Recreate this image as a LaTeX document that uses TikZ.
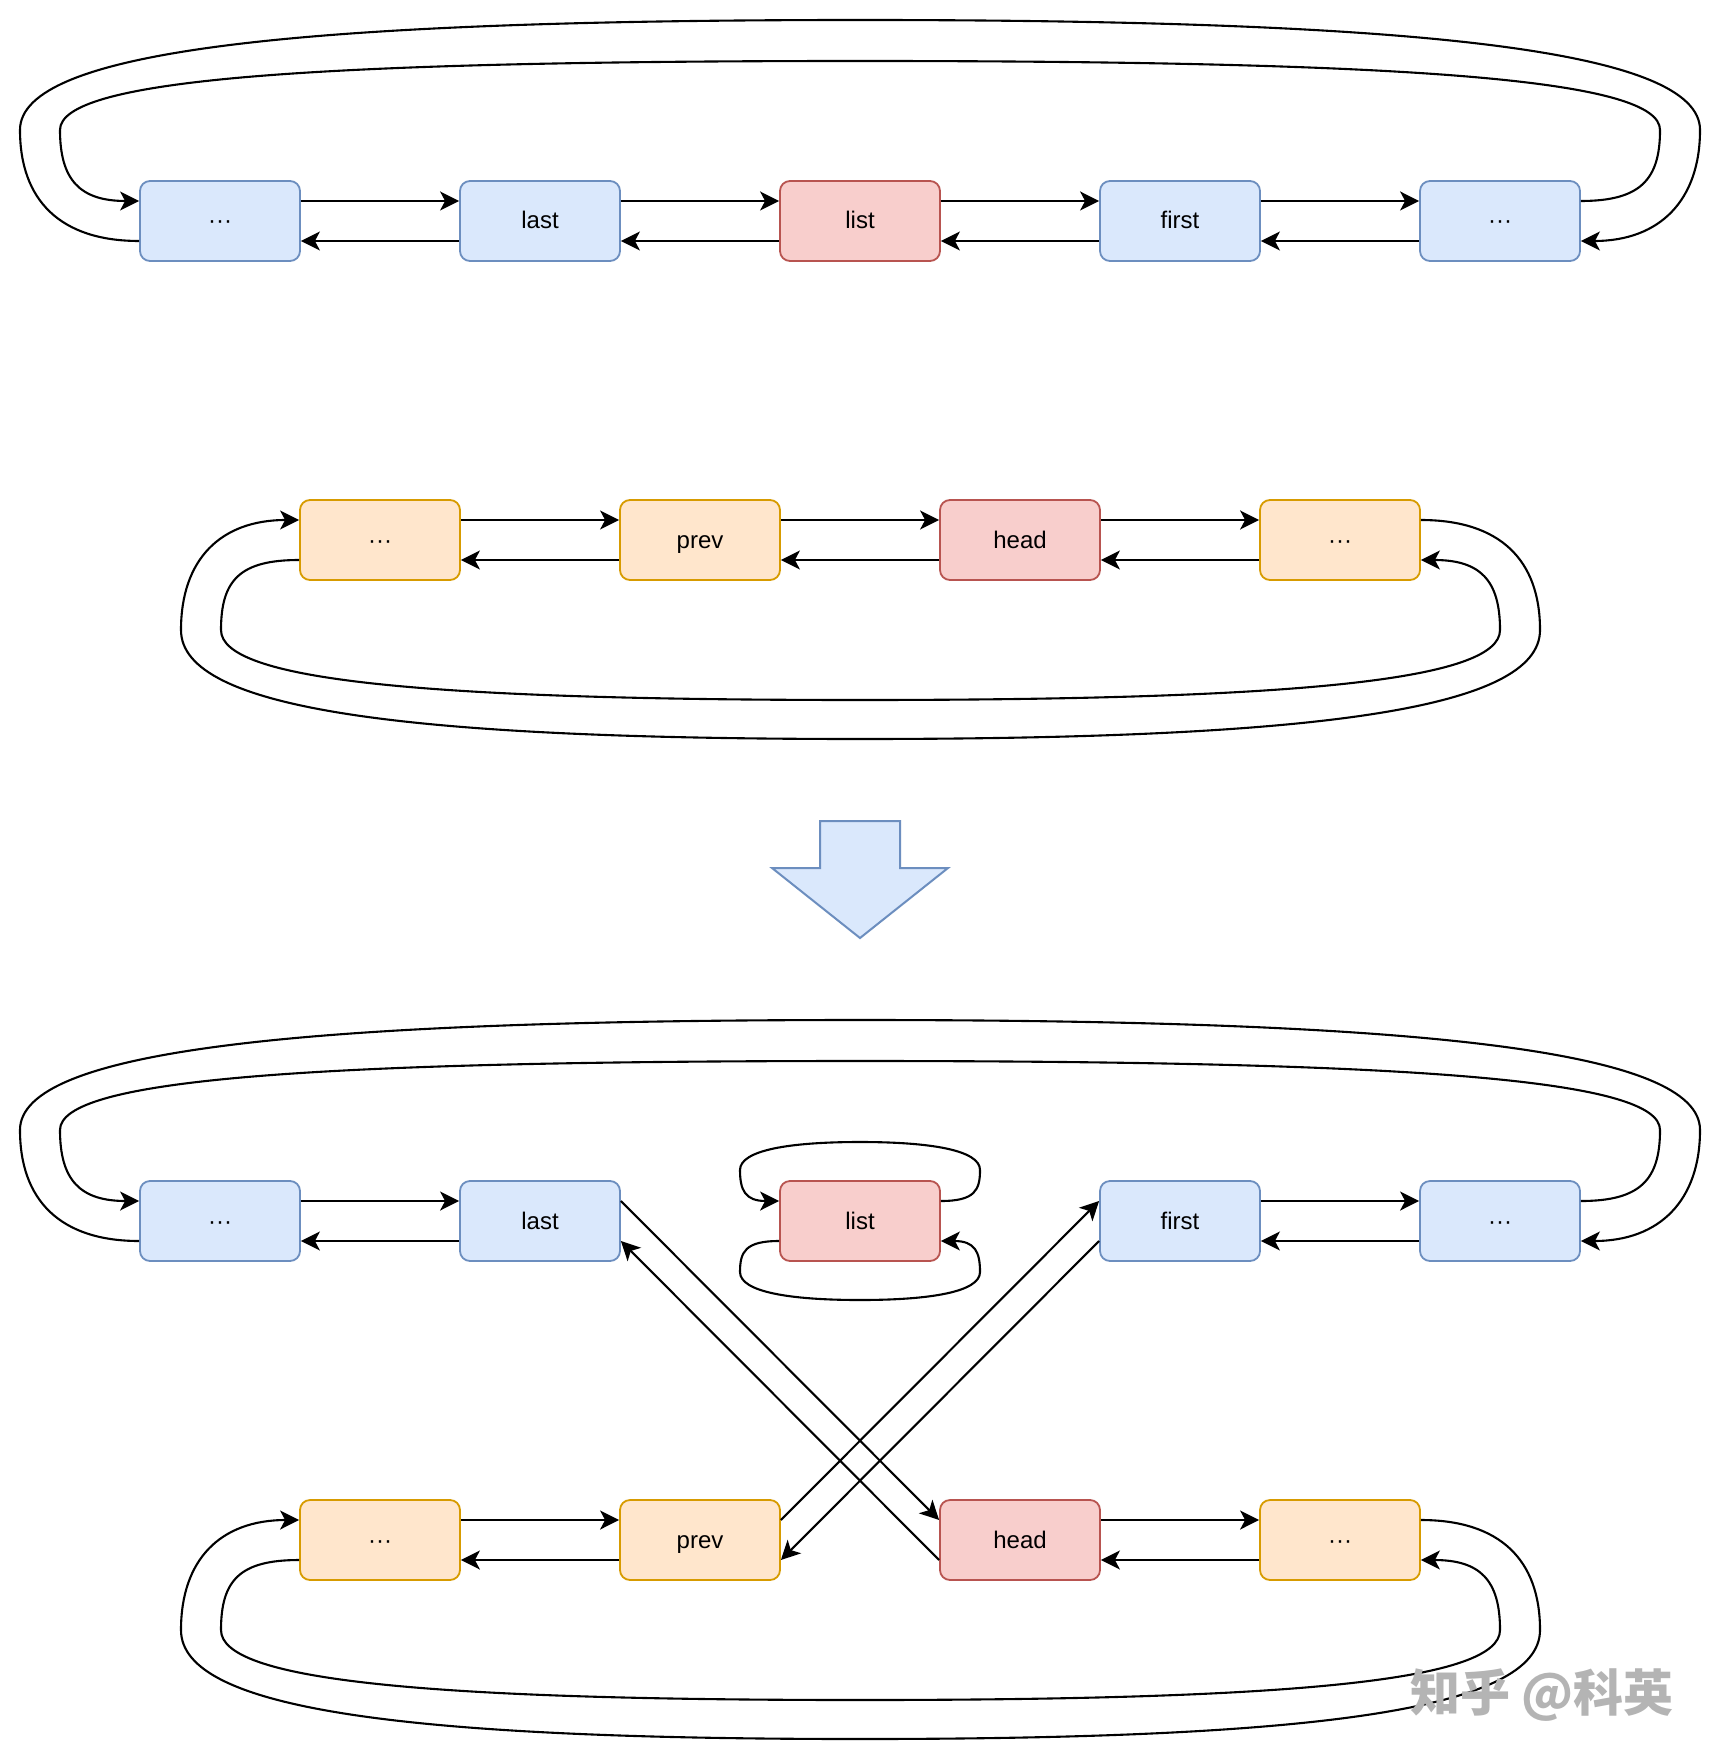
\documentclass[tikz,border=0pt]{standalone}
\usepackage{fontspec}
\setmainfont{Liberation Sans}
\newfontfamily\cjk{Noto Sans CJK SC}
\usetikzlibrary{arrows.meta}
\definecolor{bfill}{HTML}{DAE8FC}
\definecolor{bline}{HTML}{6C8EBF}
\definecolor{rfill}{HTML}{F8CECC}
\definecolor{rline}{HTML}{B85450}
\definecolor{ofill}{HTML}{FFE6CC}
\definecolor{oline}{HTML}{D79B00}
\definecolor{wmgray}{HTML}{B4B4B4}
\tikzset{
  box/.style={rounded corners=5pt, line width=0.9pt, minimum width=80pt, minimum height=40pt,
    inner sep=0pt, text height=9pt, text depth=1pt, font=\fontsize{12}{14}\selectfont},
  bluebox/.style={box, fill=bfill, draw=bline},
  redbox/.style={box, fill=rfill, draw=rline},
  orangebox/.style={box, fill=ofill, draw=oline},
  arr/.style={-{Stealth[length=9.5pt,width=9.5pt,inset=2.5pt]}, line width=1.05pt, black},
  bigarrow/.style={fill=bfill, draw=bline, line width=1pt, line join=miter}
}
\begin{document}
\begin{tikzpicture}[x=0.5pt,y=-0.5pt]
\useasboundingbox (0,0) rectangle (1722,1764);
\fill[white] (0,0) rectangle (1722,1764);

% row 1
\node[bluebox] (r1a) at (220,221) {···};
\node[bluebox] (r1b) at (540,221) {last};
\node[redbox] (r1c) at (860,221) {list};
\node[bluebox] (r1d) at (1180,221) {first};
\node[bluebox] (r1e) at (1500,221) {···};
% row 2
\node[orangebox] (r2a) at (380,540) {···};
\node[orangebox] (r2b) at (700,540) {prev};
\node[redbox] (r2c) at (1020,540) {head};
\node[orangebox] (r2d) at (1340,540) {···};
% row 3
\node[bluebox] (r3a) at (220,1221) {···};
\node[bluebox] (r3b) at (540,1221) {last};
\node[redbox] (r3c) at (860,1221) {list};
\node[bluebox] (r3d) at (1180,1221) {first};
\node[bluebox] (r3e) at (1500,1221) {···};
% row 4
\node[orangebox] (r4a) at (380,1540) {···};
\node[orangebox] (r4b) at (700,1540) {prev};
\node[redbox] (r4c) at (1020,1540) {head};
\node[orangebox] (r4d) at (1340,1540) {···};

% straight neighbour links
\foreach \u/\v in {r1a/r1b, r1b/r1c, r1c/r1d, r1d/r1e, r2a/r2b, r2b/r2c, r2c/r2d, r3a/r3b, r3d/r3e, r4a/r4b, r4c/r4d} {
  \draw[arr] ([yshift=10pt]\u.east) -- ([yshift=10pt]\v.west);
  \draw[arr] ([yshift=-10pt]\v.west) -- ([yshift=-10pt]\u.east);
}

% top loops (rows 1 and 3)
\foreach \a/\e/\oy in {r1a/r1e/0, r3a/r3e/1000} {
  \draw[arr] ([yshift=-10pt]\a.west) .. controls (60,{241+\oy}) and (20,{200+\oy}) .. (20,{130+\oy})
    .. controls (20,{50+\oy}) and (300,{20+\oy}) .. (860,{20+\oy})
    .. controls (1420,{20+\oy}) and (1700,{50+\oy}) .. (1700,{130+\oy})
    .. controls (1700,{200+\oy}) and (1660,{241+\oy}) .. ([yshift=-10pt]\e.east);
  \draw[arr] ([yshift=10pt]\e.east) .. controls (1640,{201+\oy}) and (1660,{180+\oy}) .. (1660,{130+\oy})
    .. controls (1660,{80+\oy}) and (1420,{61+\oy}) .. (860,{61+\oy})
    .. controls (300,{61+\oy}) and (60,{80+\oy}) .. (60,{130+\oy})
    .. controls (60,{180+\oy}) and (80,{201+\oy}) .. ([yshift=10pt]\a.west);
}

% bottom loops (rows 2 and 4)
\foreach \a/\d/\oy in {r2a/r2d/0, r4a/r4d/1000} {
  \draw[arr] ([yshift=10pt]\d.east) .. controls (1500,{520+\oy}) and (1540,{560+\oy}) .. (1540,{630+\oy})
    .. controls (1540,{710+\oy}) and (1313,{739+\oy}) .. (860,{739+\oy})
    .. controls (407,{739+\oy}) and (181,{710+\oy}) .. (181,{630+\oy})
    .. controls (181,{560+\oy}) and (220,{520+\oy}) .. ([yshift=10pt]\a.west);
  \draw[arr] ([yshift=-10pt]\a.west) .. controls (240,{560+\oy}) and (221,{580+\oy}) .. (221,{630+\oy})
    .. controls (221,{680+\oy}) and (420,{700+\oy}) .. (860,{700+\oy})
    .. controls (1300,{700+\oy}) and (1500,{680+\oy}) .. (1500,{630+\oy})
    .. controls (1500,{580+\oy}) and (1480,{560+\oy}) .. ([yshift=-10pt]\d.east);
}

% self loops on list
\draw[arr] ([yshift=10pt]r3c.east) .. controls (975,1201) and (980,1190) .. (980,1170)
  .. controls (980,1150) and (930,1142) .. (860,1142)
  .. controls (790,1142) and (740,1150) .. (740,1170)
  .. controls (740,1190) and (745,1201) .. ([yshift=10pt]r3c.west);
\draw[arr] ([yshift=-10pt]r3c.west) .. controls (745,1241) and (740,1252) .. (740,1272)
  .. controls (740,1292) and (790,1300) .. (860,1300)
  .. controls (930,1300) and (980,1292) .. (980,1272)
  .. controls (980,1252) and (975,1241) .. ([yshift=-10pt]r3c.east);

% crossing links
\draw[arr] ([yshift=10pt]r3b.east) -- ([yshift=10pt]r4c.west);
\draw[arr] ([yshift=-10pt]r4c.west) -- ([yshift=-10pt]r3b.east);
\draw[arr] ([yshift=10pt]r4b.east) -- ([yshift=10pt]r3d.west);
\draw[arr] ([yshift=-10pt]r3d.west) -- ([yshift=-10pt]r4b.east);

% big down arrow
\draw[bigarrow] (820,821) -- (900,821) -- (900,868) -- (948,868) -- (860,938) -- (772,868) -- (820,868) -- cycle;

% watermark
\node[text=wmgray, font=\cjk\bfseries\fontsize{25}{25}\selectfont, inner sep=0pt] (wm) at (1542,1695) {知乎 @科英};
\end{tikzpicture}
\end{document}
